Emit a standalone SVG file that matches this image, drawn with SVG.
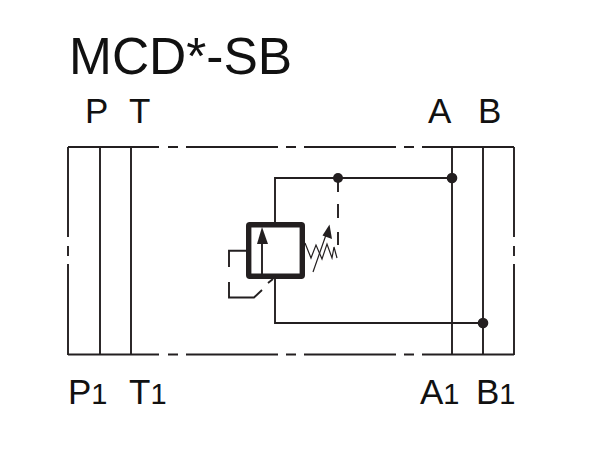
<svg xmlns="http://www.w3.org/2000/svg" width="610" height="450" viewBox="0 0 610 450">
<style>
.l{fill:none;stroke:#231f20;stroke-width:1.9}
.t{fill:none;stroke:#231f20;stroke-width:1.2}
.d{fill:#231f20}
text{font-family:"Liberation Sans",Arial,sans-serif;fill:#111}
.p{font-size:35px}
.s{font-size:29px}
</style>
<rect width="610" height="450" fill="#fff"/>
<g id="connectors">
<path class="l" d="M68 147H159M168 147H178M186 147H278M286 147H296M304 147H396M404 147H414M422 147H514M68 354.500H159M168 354.500H178M186 354.500H278M286 354.500H296M304 354.500H396M404 354.500H414M422 354.500H514"/>
<path class="l" d="M68 147V237M68 246V256M68 264V355M514 147V237M514 246V256M514 264V355M100 147V354M131 147V354M452 147V354M483 147V354"/>
<path class="l" d="M275 223V178H452M275 278V323H483M338 178V192M338 204V218M338 232V245"/>
</g>
<g id="valve">
<rect x="248.700" y="224.700" width="53.600" height="51.600" rx="1" fill="none" stroke="#231f20" stroke-width="5.400"/>
<path class="l" d="M262 275V240"/>
<path class="d" d="M262 227L268 244H257Z"/>
<path class="l" d="M247 250.700H229V267M229 282V297.500H254L262 290M268 283L273 279"/>
<path class="t" d="M305 243L311 258L316 245L322 259L327 244L332 258L334 247L337 258"/>
<path class="t" d="M313 272L327 232"/>
<path class="d" d="M329.500 224.500L332 239L322.500 235.500Z"/>
</g>
<g id="junctions">
<circle class="d" cx="338" cy="178" r="5"/>
<circle class="d" cx="452" cy="178" r="5.300"/>
<circle class="d" cx="483" cy="323" r="5.300"/>
</g>
<g id="labels">
<text x="69" y="73.500" font-size="51.500">MCD*-SB</text>
<text class="p" x="85" y="122.500">P</text>
<text class="p" x="129" y="122.500">T</text>
<text class="p" x="428" y="122.500">A</text>
<text class="p" x="478" y="122.500">B</text>
<text class="p" x="68" y="403.500">P<tspan class="s">1</tspan></text>
<text class="p" x="129" y="403.500">T<tspan class="s">1</tspan></text>
<text class="p" x="420" y="403.500">A<tspan class="s">1</tspan></text>
<text class="p" x="476" y="403.500">B<tspan class="s">1</tspan></text>
</g>
</svg>
